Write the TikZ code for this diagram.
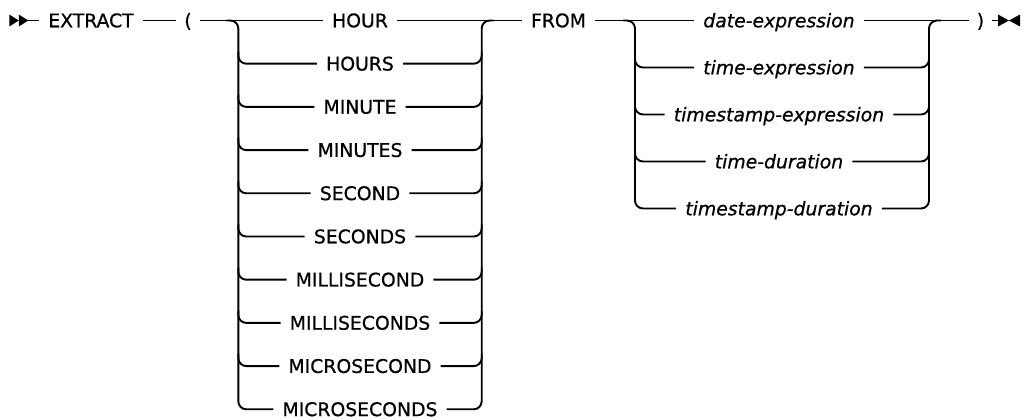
\documentclass[tikz,border=0pt]{standalone}
\usepackage{fontspec}
\setmainfont{DejaVu Sans}
\newfontfamily\railfont{DejaVu Sans}[FakeBold=0.7]
\usetikzlibrary{positioning}

\begin{document}
\begin{tikzpicture}[x=1pt, y=-1pt,
  kw/.style={font=\railfont\fontsize{18.8}{22}\selectfont, inner xsep=9pt, inner ysep=0pt, text height=13.6pt, text depth=0pt},
  var/.style={kw, font=\railfont\fontsize{18.8}{22}\selectfont\itshape},
  par/.style={kw, inner xsep=8pt},
  rail/.style={line width=1.4pt},
  fork/.style={line width=1.9pt, rounded corners=8pt},
  tip/.style={fill=black}]
  \useasboundingbox (0,0) rectangle (1023,419);
  % main line
  \coordinate (start) at (28.3,20.5);
  \coordinate (stop) at (998,20.5);
  \fill[tip] (9.3,14.5) -- (18.8,20.5) -- (9.3,26.5) -- cycle;
  \fill[tip] (18.8,14.5) -- (start) -- (18.8,26.5) -- cycle;
  \fill[tip] (stop) ++(0,-6) -- (1009,20.5) -- (998,26.5) -- cycle;
  \fill[tip] (1020,14.5) -- (1009,20.5) -- (1020,26.5) -- cycle;
  \node[kw] (extract) at (91,20.5) {EXTRACT};
  \node[par] (lpar) at (188,20.5) {(};
  \node[kw] (from) at (558.5,20.5) {FROM};
  \node[par] (rpar) at (980.5,20.5) {)};
  % bracket columns
  \coordinate (ul) at (238.3,20.5);
  \coordinate (ur) at (481.7,20.5);
  \coordinate (el) at (635,20.5);
  \coordinate (er) at (929,20.5);
  % units
  \foreach \u [count=\i from 0] in {HOUR,HOURS,MINUTE,MINUTES,SECOND,SECONDS,MILLISECOND,MILLISECONDS,MICROSECOND,MICROSECONDS}
    \node[kw] (u\i) at (360,{20.5+43.2*\i}) {\u};
  % expressions
  \foreach \e [count=\j from 0] in {date-expression,time-expression,timestamp-expression,time-duration,timestamp-duration}
    \node[var] (e\j) at (779,{20.5+47*\j}) {\e};

  \draw[rail] (start) -- (extract.west);
  \draw[rail] (extract.east) -- (lpar.west);
  \draw[rail] (lpar.east) -- (u0.west);
  \draw[rail] (u0.east) -- (from.west);
  \draw[rail] (from.east) -- (e0.west);
  \draw[rail] (e0.east) -- (rpar.west);
  \draw[rail] (rpar.east) -- (stop);

  % unit choices
  \draw[fork] (ul) ++(-12,0) -- (ul) |- (u9.west);
  \draw[fork] (u9.east) -| (ur) -- ++(12,0);
  \foreach \i in {1,...,8} {
    \draw[fork] (u\i.west) -- (u\i.west -| ul) -- ++(0,-12);
    \draw[fork] (u\i.east) -- (u\i.east -| ur) -- ++(0,-12);
  }
  % expression choices
  \draw[fork] (el) ++(-12,0) -- (el) |- (e4.west);
  \draw[fork] (e4.east) -| (er) -- ++(12,0);
  \foreach \j in {1,2,3} {
    \draw[fork] (e\j.west) -- (e\j.west -| el) -- ++(0,-12);
    \draw[fork] (e\j.east) -- (e\j.east -| er) -- ++(0,-12);
  }
\end{tikzpicture}
\end{document}
